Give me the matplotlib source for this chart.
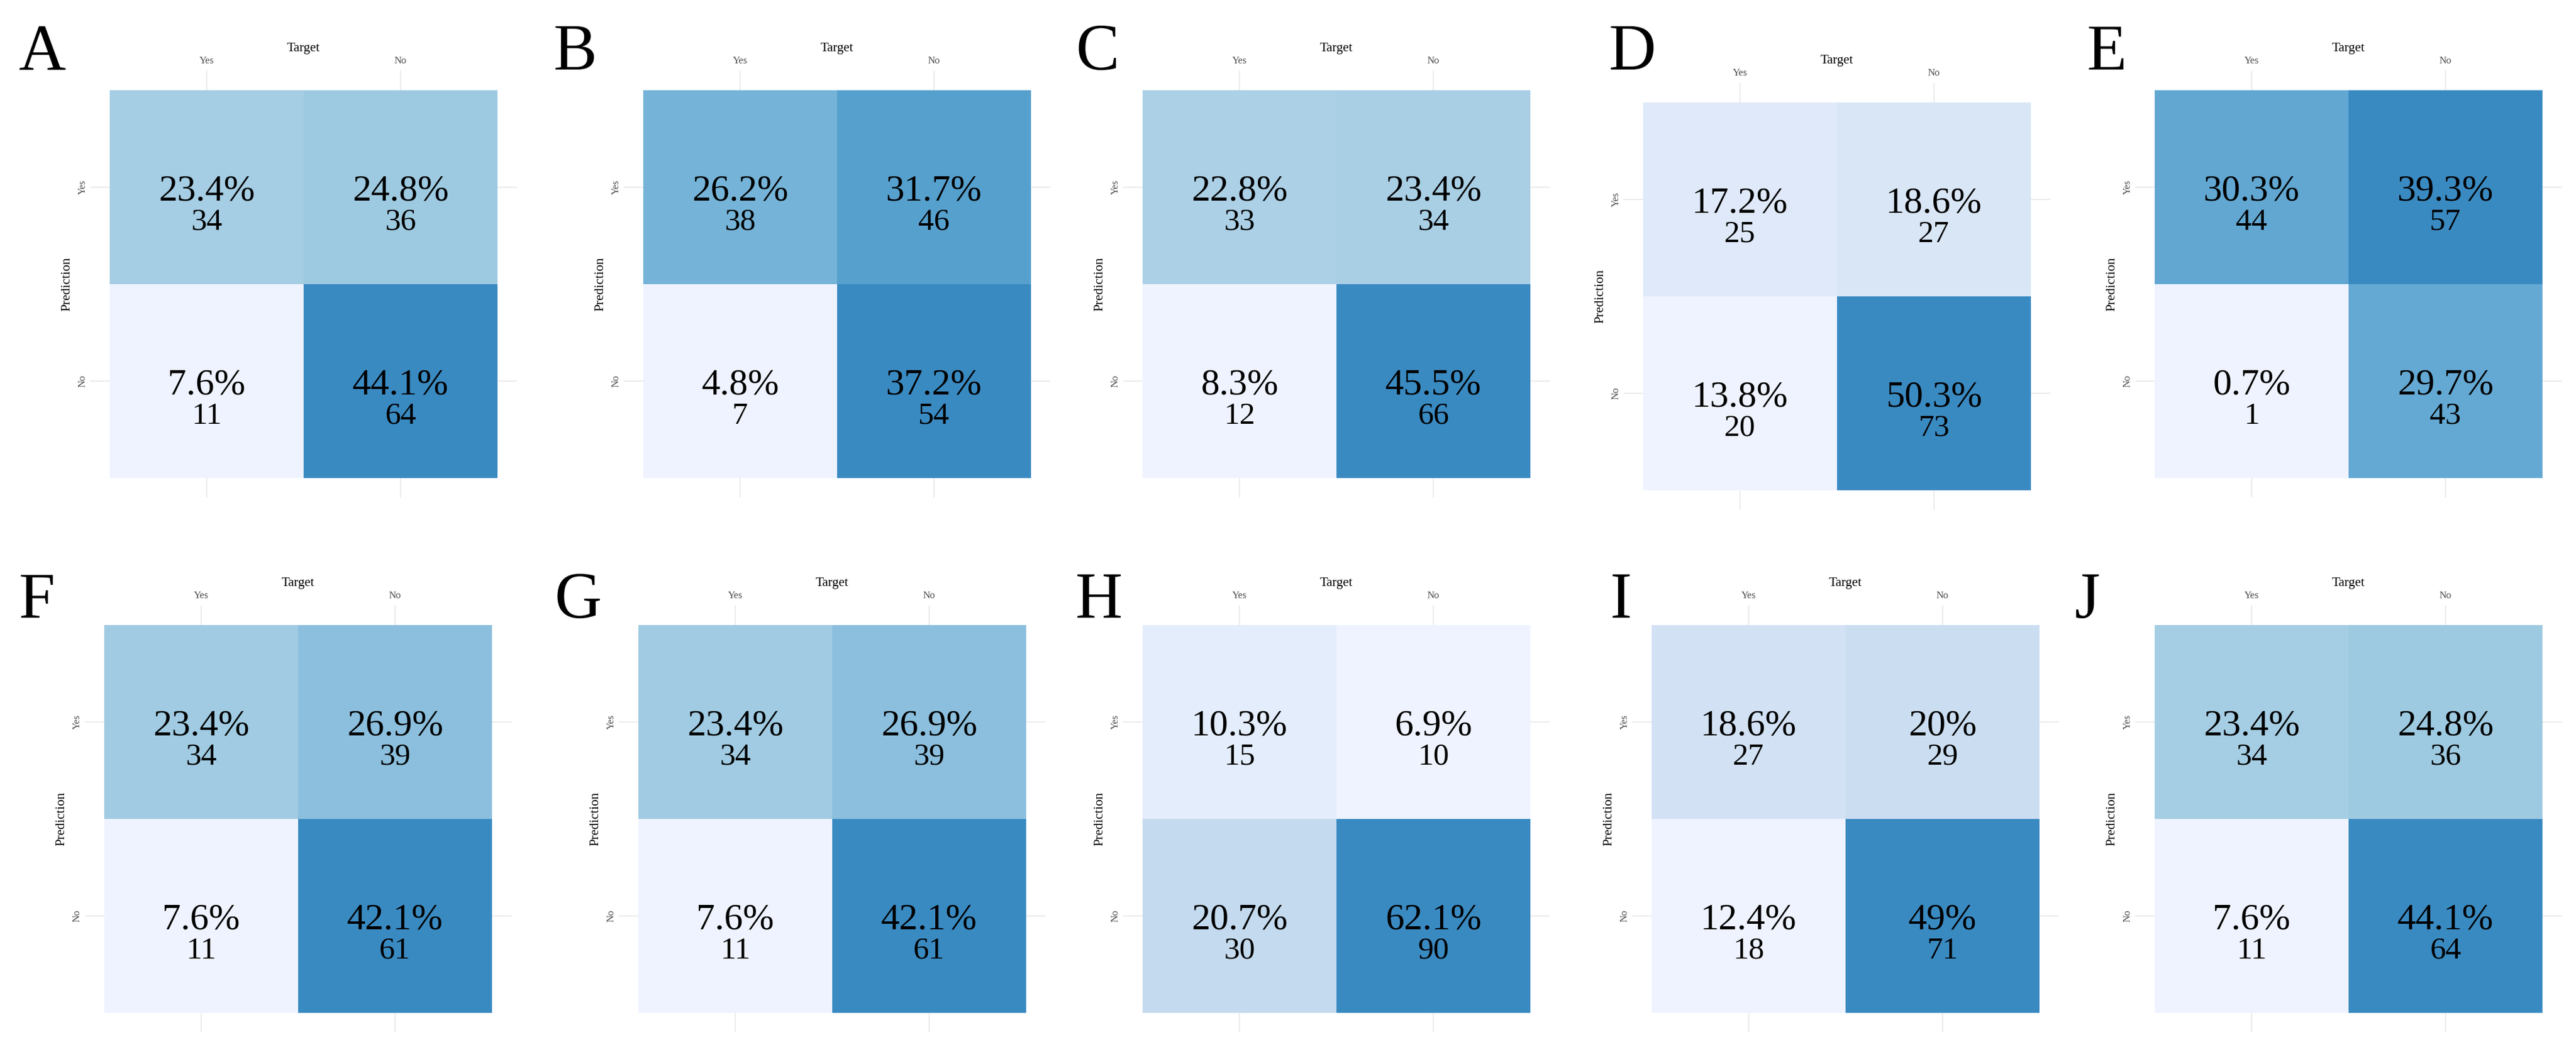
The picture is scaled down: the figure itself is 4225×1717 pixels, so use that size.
"""
Ten 2x2 confusion matrices (panels A-J), Target on top, Prediction on the left.
Tile colour follows the count within each panel on a 7-step Blues scale.
"""

import numpy as np
import matplotlib
matplotlib.use("Agg")
import matplotlib.pyplot as plt
from matplotlib.colors import LinearSegmentedColormap, Normalize

plt.rcParams["font.family"] = ["Liberation Serif", "DejaVu Serif"]

W, H, DPI = 4225, 1717, 100

# ── data ────────────────────────────────────────────────────────────────────
panel_letters = ["A", "B", "C", "D", "E", "F", "G", "H", "I", "J"]
target_labels = ["Yes", "No"]
prediction_labels = ["Yes", "No"]

# cell order: (pred Yes, target Yes), (pred Yes, target No),
#             (pred No,  target Yes), (pred No,  target No)
counts_A = [34, 36, 11, 64]
counts_B = [38, 46, 7, 54]
counts_C = [33, 34, 12, 66]
counts_D = [25, 27, 20, 73]
counts_E = [44, 57, 1, 43]
counts_F = [34, 39, 11, 61]
counts_G = [34, 39, 11, 61]
counts_H = [15, 10, 30, 90]
counts_I = [27, 29, 18, 71]
counts_J = [34, 36, 11, 64]

pct_A = [23.4, 24.8, 7.6, 44.1]
pct_B = [26.2, 31.7, 4.8, 37.2]
pct_C = [22.8, 23.4, 8.3, 45.5]
pct_D = [17.2, 18.6, 13.8, 50.3]
pct_E = [30.3, 39.3, 0.7, 29.7]
pct_F = [23.4, 26.9, 7.6, 42.1]
pct_G = [23.4, 26.9, 7.6, 42.1]
pct_H = [10.3, 6.9, 20.7, 62.1]
pct_I = [18.6, 20, 12.4, 49]
pct_J = [23.4, 24.8, 7.6, 44.1]

all_counts = [counts_A, counts_B, counts_C, counts_D, counts_E,
              counts_F, counts_G, counts_H, counts_I, counts_J]
all_pcts = [pct_A, pct_B, pct_C, pct_D, pct_E,
            pct_F, pct_G, pct_H, pct_I, pct_J]

# ── layout (pixels, y measured from the top) ────────────────────────────────
TILE = 636                      # size of the 2x2 tile block
PAD = 0.1 * TILE / 2            # panel expansion beyond the tiles
tile_left = [180, 1055, 1874, 2695, 3534, 171, 1047, 1874, 2709, 3534]
tile_top = [148, 148, 148, 168, 148, 1025, 1025, 1025, 1025, 1025]
letter_x = [31, 908, 1765, 2639, 3423, 31, 910, 1764, 2640, 3403]
letter_base = [114] * 5 + [1013] * 5

BLUES7 = ["#EFF3FF", "#C6DBEF", "#9ECAE1", "#6BAED6",
          "#4292C6", "#2171B5", "#084594"]
cmap = LinearSegmentedColormap.from_list("blues7", BLUES7)
DARKNESS = 0.706
GRID = "#EBEBEB"
TICK_COL = "#4D4D4D"


def fx(x):
    return x / W


def fy(y):
    return 1 - y / H


fig = plt.figure(figsize=(W / DPI, H / DPI), dpi=DPI)

for i, letter in enumerate(panel_letters):
    x0, y0 = tile_left[i], tile_top[i]
    counts = np.array(all_counts[i]).reshape(2, 2)
    pcts = np.array(all_pcts[i]).reshape(2, 2)

    ax = fig.add_axes([fx(x0 - PAD), fy(y0 + TILE + PAD),
                       (TILE + 2 * PAD) / W, (TILE + 2 * PAD) / H])
    lo, hi = counts.min(), counts.max()
    norm = Normalize(vmin=lo, vmax=lo + (hi - lo) / DARKNESS)
    ax.pcolormesh([0.5, 1.5, 2.5], [0.5, 1.5, 2.5], counts,
                  cmap=cmap, norm=norm, edgecolors="none",
                  antialiased=False, zorder=1)
    ax.set_xlim(0.4, 2.6)
    ax.set_ylim(2.6, 0.4)
    ax.set_xticks([1, 2])
    ax.set_yticks([1, 2])
    ax.grid(True, color=GRID, lw=1.4, zorder=0)
    ax.set_axisbelow(True)
    ax.tick_params(length=0, labelbottom=False, labelleft=False)
    for s in ax.spines.values():
        s.set_visible(False)

    for r in range(2):
        for c in range(2):
            ax.text(c + 1, r + 1 + 0.068, f"{pcts[r, c]:g}%",
                    ha="center", va="baseline", fontsize=44, zorder=3)
            ax.text(c + 1, r + 1 + 0.22, f"{counts[r, c]}",
                    ha="center", va="baseline", fontsize=37, zorder=3)

    # axis titles and category labels
    fig.text(fx(x0 + TILE / 2), fy(y0 - 64), "Target",
             ha="center", va="baseline", fontsize=15.5)
    for c, lab in enumerate(target_labels):
        fig.text(fx(x0 + TILE * (c + 0.5) / 2), fy(y0 - 44), lab,
                 ha="center", va="baseline", fontsize=12, color=TICK_COL)
    fig.text(fx(x0 - 66), fy(y0 + TILE / 2), "Prediction",
             ha="center", va="baseline", rotation=90,
             rotation_mode="anchor", fontsize=15.5)
    for r, lab in enumerate(prediction_labels):
        fig.text(fx(x0 - 40), fy(y0 + TILE * (r + 0.5) / 2), lab,
                 ha="center", va="baseline", rotation=90,
                 rotation_mode="anchor", fontsize=12, color=TICK_COL)

    fig.text(fx(letter_x[i]), fy(letter_base[i]), letter,
             ha="left", va="baseline", fontsize=77)

fig.savefig("out.png", dpi=DPI, facecolor="white")
